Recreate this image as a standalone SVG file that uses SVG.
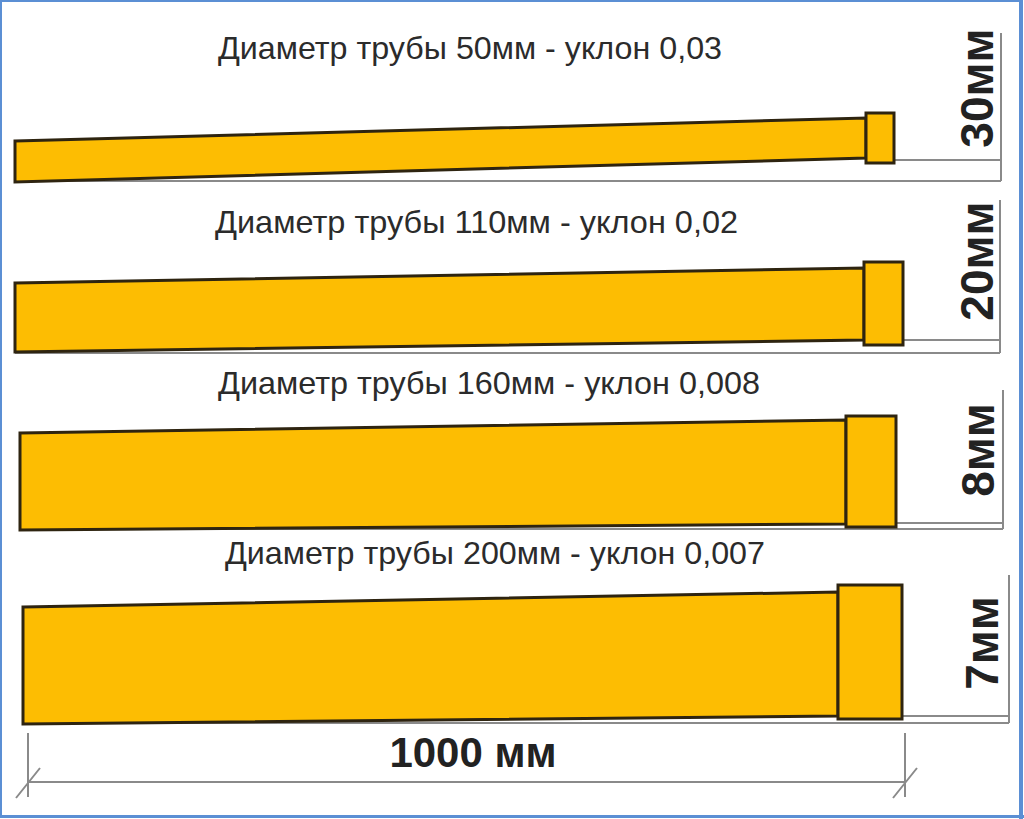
<svg xmlns="http://www.w3.org/2000/svg" width="1024" height="819" viewBox="0 0 1024 819">
<style>
.pipe{fill:#FDBD02;stroke:#2e2410;stroke-width:3;stroke-linejoin:miter}
.dim{stroke:#8a8a8a;stroke-width:2;fill:none}
.title{font-family:"Liberation Sans",Arial,sans-serif;font-size:32px;fill:#2b2b2b}
.vlab{font-family:"Liberation Sans",Arial,sans-serif;font-size:46px;font-weight:bold;fill:#222}
.len{font-family:"Liberation Sans",Arial,sans-serif;font-size:42px;font-weight:bold;fill:#222}
</style>
<rect x="0" y="0" width="1024" height="819" fill="#ffffff"/>
<rect x="1" y="1" width="1021" height="816" fill="none" stroke="#5b8fd4" stroke-width="2"/>
<line x1="1021" y1="0" x2="1021" y2="819" stroke="#5b8fd4" stroke-width="4"/>
<line x1="0" y1="816.5" x2="1024" y2="816.5" stroke="#5b8fd4" stroke-width="3"/>

<g id="connectors">
  <path class="dim" d="M15,181 H1001 M894,160 H1001 M1001,33 V181"/>
  <path class="dim" d="M15,353 H1000 M903,340 H1000 M1000,200 V353"/>
  <path class="dim" d="M20,529 H1003 M896,523 H1003 M1003,390 V529"/>
  <path class="dim" d="M23,723 H1009 M902,716 H1009 M1009,575 V723"/>
  <path class="dim" d="M28,782 H905 M28,733 V797 M905,733 V797 M16,798 L40,768 M893,798 L917,768"/>
</g>

<g id="pipe1">
  <polygon class="pipe" points="15,141 866,118 866,158 15,182"/>
  <rect class="pipe" x="866" y="113" width="28" height="50"/>
  <text class="title" x="218" y="59" textLength="504" lengthAdjust="spacingAndGlyphs">Диаметр трубы 50мм - уклон 0,03</text>
  <text class="vlab" x="993" y="88" text-anchor="middle" transform="rotate(-90 993 88)">30мм</text>
</g>
<g id="pipe2">
  <polygon class="pipe" points="15,283 864,268 864,340 15,352"/>
  <rect class="pipe" x="864" y="262" width="39" height="83"/>
  <text class="title" x="215" y="233" textLength="523" lengthAdjust="spacingAndGlyphs">Диаметр трубы 110мм - уклон 0,02</text>
  <text class="vlab" x="993" y="261" text-anchor="middle" transform="rotate(-90 993 261)">20мм</text>
</g>
<g id="pipe3">
  <polygon class="pipe" points="20,433 846,420 846,524 20,530"/>
  <rect class="pipe" x="846" y="416" width="50" height="111"/>
  <text class="title" x="218" y="394" textLength="542" lengthAdjust="spacingAndGlyphs">Диаметр трубы 160мм - уклон 0,008</text>
  <text class="vlab" x="994" y="450" text-anchor="middle" transform="rotate(-90 994 450)">8мм</text>
</g>
<g id="pipe4">
  <polygon class="pipe" points="23,607 838,592 838,716 23,724"/>
  <rect class="pipe" x="838" y="585" width="64" height="134"/>
  <text class="title" x="225" y="564" textLength="540" lengthAdjust="spacingAndGlyphs">Диаметр трубы 200мм - уклон 0,007</text>
  <text class="vlab" x="998" y="643" text-anchor="middle" transform="rotate(-90 998 643)">7мм</text>
</g>
<g id="dimension">
  <text class="len" x="473" y="767" text-anchor="middle">1000 мм</text>
</g>
</svg>
